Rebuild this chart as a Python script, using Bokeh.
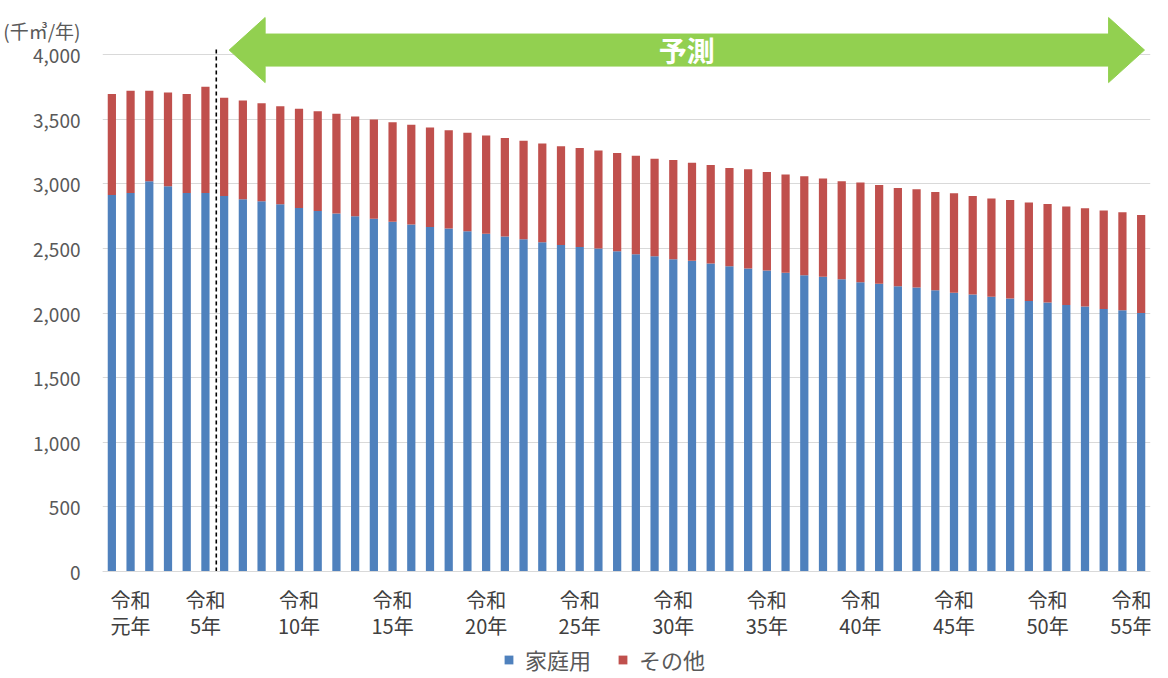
from bokeh.plotting import figure
from bokeh.models import (FixedTicker, NumeralTickFormatter, Legend, LegendItem,
                          Label, Range1d, ColumnDataSource)
from bokeh.embed import file_html
from bokeh.resources import INLINE

# ---- data (千㎥/年) ----
years = ["平成30年", "令和元年"] + [f"令和{i}年" for i in range(2, 56)]
domestic = [2915, 2931, 3021, 2982, 2931, 2931, 2907, 2882, 2866, 2843,
            2815, 2791, 2771, 2750, 2730, 2707, 2686, 2668, 2655, 2634,
            2614, 2593, 2573, 2549, 2528, 2513, 2501, 2480, 2457, 2441,
            2418, 2405, 2385, 2364, 2346, 2331, 2312, 2294, 2281, 2263,
            2239, 2227, 2209, 2199, 2178, 2158, 2145, 2127, 2114, 2094,
            2083, 2063, 2052, 2032, 2022, 2001]
other = [781, 791, 701, 727, 765, 822, 761, 765, 760, 759,
         767, 773, 773, 773, 770, 772, 773, 770, 762, 763,
         762, 763, 762, 765, 764, 766, 759, 760, 762, 755,
         768, 760, 762, 760, 768, 762, 761, 766, 761, 758,
         772, 765, 760, 760, 760, 770, 762, 760, 762, 762,
         762, 762, 760, 762, 759, 759]
tick_years = ["令和元年", "令和5年", "令和10年", "令和15年", "令和20年", "令和25年",
              "令和30年", "令和35年", "令和40年", "令和45年", "令和50年", "令和55年"]
tick_labels = ["令和\n元年", "令和\n5年", "令和\n10年", "令和\n15年", "令和\n20年",
               "令和\n25年", "令和\n30年", "令和\n35年", "令和\n40年", "令和\n45年",
               "令和\n50年", "令和\n55年"]
y_ticks = [0, 500, 1000, 1500, 2000, 2500, 3000, 3500, 4000]
unit_label = "(千㎥/年)"
series_names = ["家庭用", "その他"]
first_forecast = "令和6年"
last_forecast = "令和55年"

FONT = "Noto Sans CJK JP"
BLUE = "#4F81BD"
RED = "#C0504D"
GREEN = "#92D050"

x_idx = list(range(len(years)))
src = ColumnDataSource(dict(x=x_idx, domestic=domestic, other=other))

p = figure(width=1152, height=676, output_backend="svg", toolbar_location=None,
           x_range=Range1d(-0.5, len(years) - 0.5), y_range=Range1d(-813, 4320),
           min_border_left=100, min_border_right=2, min_border_top=13,
           min_border_bottom=0)
p.outline_line_color = None
p.background_fill_color = "white"

renderers = p.vbar_stack(["domestic", "other"], x="x", width=0.44,
                         color=[BLUE, RED], source=src, line_color=None)

# axes
unit_pos = 4190
p.xgrid.grid_line_color = None
p.ygrid.ticker = FixedTicker(ticks=y_ticks)
p.ygrid.grid_line_color = "#D9D9D9"
p.ygrid.grid_line_width = 1
p.yaxis.ticker = FixedTicker(ticks=y_ticks + [unit_pos])
p.yaxis.formatter = NumeralTickFormatter(format="0,0")
p.yaxis.major_label_overrides = {unit_pos: unit_label}
p.yaxis.axis_line_color = None
p.yaxis.major_tick_line_color = None
p.yaxis.minor_tick_line_color = None
p.yaxis.major_tick_out = 0
p.yaxis.major_tick_in = 0
p.yaxis.major_label_standoff = 22
p.yaxis.major_label_text_font = FONT
p.yaxis.major_label_text_font_size = "19px"
p.yaxis.major_label_text_color = "#595959"

tick_pos = [years.index(t) for t in tick_years]
p.xaxis.fixed_location = 0
p.xaxis.ticker = FixedTicker(ticks=tick_pos)
p.xaxis.major_label_overrides = {tp: lab for tp, lab in zip(tick_pos, tick_labels)}
p.xaxis.axis_line_color = "#D9D9D9"
p.xaxis.major_tick_line_color = None
p.xaxis.minor_tick_line_color = None
p.xaxis.major_tick_out = 0
p.xaxis.major_tick_in = 0
p.xaxis.major_label_standoff = 14
p.xaxis.major_label_text_font = FONT
p.xaxis.major_label_text_font_size = "20px"
p.xaxis.major_label_text_line_height = 0.88
p.xaxis.major_label_text_color = "#404040"

# dashed separator between actual and forecast
fs = years.index(first_forecast)
p.segment(x0=[fs - 0.42], y0=[0], x1=[fs - 0.42], y1=[4050],
          line_color="black", line_width=1.6, line_dash="4 3")

# forecast double arrow
L = fs + 0.27
R = years.index(last_forecast) + 0.18
h = 1.92
yc, sh, hh = 4037, 124, 252
ax = [L, L + h, L + h, R - h, R - h, R, R - h, R - h, L + h, L + h]
ay = [yc, yc + hh, yc + sh, yc + sh, yc + hh, yc, yc - hh, yc - sh, yc - sh, yc - hh]
p.patch(ax, ay, fill_color=GREEN, line_color=GREEN, line_width=1)
p.add_layout(Label(x=(L + R) / 2, y=yc, text="予測", text_align="center",
                   text_baseline="middle", text_color="white",
                   text_font=FONT, text_font_size="28px", text_font_style="bold"))

legend = Legend(items=[LegendItem(label=series_names[0], renderers=[renderers[0]]),
                       LegendItem(label=series_names[1], renderers=[renderers[1]])],
                orientation="horizontal", location=(401, 1),
                glyph_width=11, glyph_height=11, label_standoff=11, spacing=26,
                padding=0, margin=0, border_line_color=None,
                background_fill_alpha=0,
                label_text_font=FONT, label_text_font_size="22px",
                label_text_color="#595959")
p.add_layout(legend, "center")

open("out.html", "w").write(file_html(p, INLINE))
